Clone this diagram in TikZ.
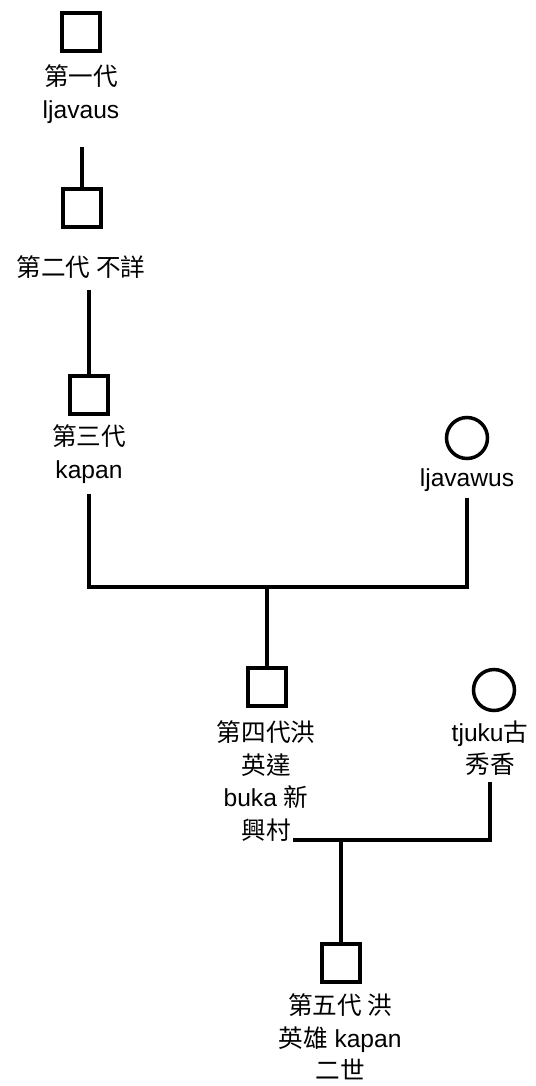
\documentclass[tikz,border=0pt]{standalone}
\usepackage{fontspec}
\setmainfont{Liberation Sans}
\newfontfamily\cjk{Noto Sans CJK TC}
\newcommand{\zh}[1]{{\cjk #1}}

\begin{document}
\begin{tikzpicture}[x=0.02cm, y=-0.02cm, line width=2pt,
  male/.style={draw, rectangle, minimum size=0.76cm, inner sep=0pt},
  female/.style={draw, circle, minimum size=0.82cm, inner sep=0pt},
  person/.style={align=center, inner sep=0pt, font=\fontsize{14}{18.5}\selectfont}]
\useasboundingbox (0,0) rectangle (536,1086); % page

\node[male] (gen1) at (81,32) {}; % first generation
\node[person] (lab1) at (81,94) {\zh{第一代}\\ljavaus}; % its label
\node[male] (gen2) at (82,208) {}; % second generation
\node[person] (lab2) at (81,267) {\zh{第二代 不詳}}; % its label
\node[male] (gen3) at (89,395) {}; % third generation
\node[person] (lab3) at (89,454) {\zh{第三代}\\kapan}; % its label
\node[female] (wife1) at (467,438) {}; % his wife
\node[person] (wlab1) at (467,480) {ljavawus}; % her label

\node[male] (gen4) at (267,687) {}; % fourth generation
\node[person] (lab4) at (266,781) {\zh{第四代洪}\\\zh{英達}\\buka \zh{新}\\\zh{興村}}; % its label
\node[female] (wife2) at (494,690) {}; % his wife
\node[person] (wlab2) at (490,748) {tjuku\zh{古}\\\zh{秀香}}; % her label

\node[male] (gen5) at (341,963) {}; % fifth generation
\node[person] (lab5) at (340,1037) {\zh{第五代 洪}\\\zh{英雄} kapan\\\zh{二世}}; % its label

\draw[shorten <=0.45cm] (lab1.south -| gen2.north) -- (gen2.north); % line 1 to 2
\draw[shorten <=0.2cm] (lab2.south -| gen3.north) -- (gen3.north); % line 2 to 3

\coordinate (m1) at (267,587); % first marriage line
\draw[shorten <=0.18cm, shorten >=0.1cm] (lab3.south) |- (m1) -| (wlab1.south); % couple
\draw (m1) -- (gen4.north); % child

\coordinate (c2) at (293,840); % end beside the label
\coordinate (m2) at (341,840); % second marriage line
\draw[shorten >=0.1cm] (c2) -| (wlab2.south); % couple
\draw (m2) -- (gen5.north); % child

\end{tikzpicture}
\end{document}
